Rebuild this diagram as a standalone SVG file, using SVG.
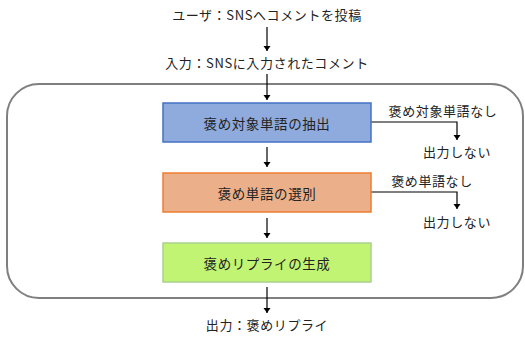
<svg xmlns="http://www.w3.org/2000/svg" width="525" height="338" viewBox="0 0 525 338">
<defs>
<style>
text{font-family:"Noto Sans CJK JP","Noto Sans",sans-serif;font-size:13px;fill:#222;letter-spacing:0.6px;}
.bt{text-anchor:middle;dominant-baseline:central;font-size:13.5px;}
.c{stroke:#000;stroke-width:1.2;fill:none;}
.ah{fill:#000;}
</style>
</defs>
<rect x="7" y="84" width="516" height="214" rx="32" ry="32" fill="#fff" stroke="#7f7f7f" stroke-width="2"/>
<g id="connectors">
<line class="c" x1="267" y1="27" x2="267" y2="51"/>
<path class="ah" d="M263.5,46 L270.5,46 L267,51 Z"/>
<line class="c" x1="267" y1="74" x2="267" y2="100"/>
<path class="ah" d="M263.5,95 L270.5,95 L267,100 Z"/>
<line class="c" x1="267" y1="147" x2="267" y2="167"/>
<path class="ah" d="M263.5,162 L270.5,162 L267,167 Z"/>
<line class="c" x1="267" y1="218" x2="267" y2="238"/>
<path class="ah" d="M263.5,233 L270.5,233 L267,238 Z"/>
<line class="c" x1="267" y1="287" x2="267" y2="313"/>
<path class="ah" d="M263.5,308 L270.5,308 L267,313 Z"/>
<polyline class="c" points="371,122 457,122 457,140"/>
<path class="ah" d="M453.5,135 L460.5,135 L457,140 Z"/>
<polyline class="c" points="371,192 457,192 457,209"/>
<path class="ah" d="M453.5,204 L460.5,204 L457,209 Z"/>
</g>
<g id="input-user"><text x="267" y="20" text-anchor="middle">ユーザ：SNSへコメントを投稿</text></g>
<g id="input"><text x="267" y="68" text-anchor="middle">入力：SNSに入力されたコメント</text></g>
<g id="extract">
<rect x="163" y="103" width="208" height="39" fill="#8faadc" stroke="#4472c4" stroke-width="1.5"/>
<text class="bt" x="267" y="122.5">褒め対象単語の抽出</text>
</g>
<g id="select">
<rect x="163" y="173" width="208" height="39" fill="#ebb08a" stroke="#ed7d31" stroke-width="1.5"/>
<text class="bt" x="267" y="192.5">褒め単語の選別</text>
</g>
<g id="generate">
<rect x="163" y="243" width="208" height="39" fill="#c2f474" stroke="#a9d18e" stroke-width="1.5"/>
<text class="bt" x="267" y="262.5">褒めリプライの生成</text>
</g>
<g id="no-target"><text x="443" y="116" text-anchor="middle">褒め対象単語なし</text></g>
<g id="no-output-1"><text x="457" y="157" text-anchor="middle">出力しない</text></g>
<g id="no-word"><text x="432" y="186" text-anchor="middle">褒め単語なし</text></g>
<g id="no-output-2"><text x="457" y="227" text-anchor="middle">出力しない</text></g>
<g id="output"><text x="267" y="330" text-anchor="middle">出力：褒めリプライ</text></g>
</svg>
